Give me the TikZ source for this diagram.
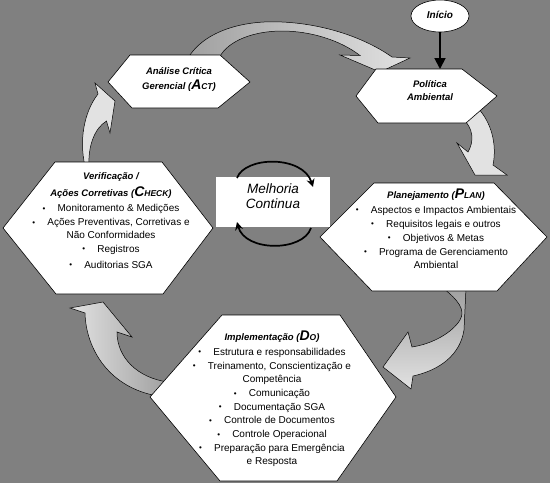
\documentclass[tikz,border=0pt]{standalone}
\usepackage{fontspec}
\setmainfont{Liberation Sans}
\usetikzlibrary{arrows.meta,shapes.geometric}
\definecolor{bg}{RGB}{128,128,128}
\definecolor{arrlight}{RGB}{226,226,226}
\definecolor{arrdark}{RGB}{160,160,160}
\newcommand\bul{\makebox[15pt][l]{\raisebox{0.4pt}{\fontsize{8}{8}\selectfont •}}}
\newcommand\pdcaletter[2]{{\fontsize{14}{14}\selectfont #1}{\fontsize{8.5}{10}\selectfont #2}}
\begin{document}
\begin{tikzpicture}[x=1pt,y=-1pt,
  hexa/.style={draw=black, line width=0.6pt, fill=white},
  blockarrow/.style={draw=black, line width=0.5pt},
  txt/.style={align=center, inner sep=0pt, font=\fontsize{10}{14}\selectfont},
  ttl/.style={align=center, inner sep=0pt, font=\bfseries\itshape\fontsize{9.5}{13}\selectfont},
  cycarrow/.style={line width=1.7pt, -{Stealth[length=8pt,width=8pt]}}]
\fill[bg] (0,0) rectangle (550,483);
\useasboundingbox (0,0) rectangle (550,483);

% ---- curved block arrows (behind the hexagons)
% ACT -> Politica
\path[blockarrow, left color=arrdark, right color=arrlight]
  (188,58) .. controls (205,30) and (245,20) .. (282,22)
  .. controls (325,24) and (365,38) .. (392,57) -- (410,58) -- (380,72) -- (340,55) -- (360,55.5)
  .. controls (340,40) and (310,31) .. (282,31)
  .. controls (255,31) and (228,40) .. (219,58) -- cycle;
% Politica -> Planejamento
\path[blockarrow, fill=arrlight]
  (462,118) .. controls (474,128) and (474,142) .. (468,152) -- (457,143) -- (475,175) -- (507,175) -- (493,165)
  .. controls (497,145) and (492,122) .. (476,106) -- cycle;
% Planejamento -> Implementacao
\path[blockarrow, top color=arrdark, bottom color=arrlight]
  (443,288) .. controls (458,300) and (466,310) .. (460,320)
  .. controls (452,333) and (432,344) .. (412,347) -- (408,332) -- (383,367) -- (411,389) -- (413,376)
  .. controls (440,370) and (460,355) .. (464,330) -- (466,288) -- cycle;
% Implementacao -> Verificacao
\path[blockarrow, left color=arrlight, right color=arrdark]
  (168,382) .. controls (138,378) and (117,358) .. (117,332) -- (132,337) -- (103,302) -- (70,308) -- (85,313)
  .. controls (86,350) and (110,388) .. (158,396) -- cycle;
% Verificacao -> ACT
\path[blockarrow, fill=arrlight]
  (85,166) .. controls (79,140) and (84,112) .. (98,94) -- (95,83) -- (115,101) -- (110,133) -- (106.5,121)
  .. controls (95,128) and (88,145) .. (89,166) -- cycle;

% ---- hexagons
\draw[hexa] (108,82) -- (130,55) -- (220,55) -- (250,82) -- (218,108) -- (132,108) -- cycle;
\draw[hexa] (356,96) -- (376,69) -- (462,69) -- (497,96) -- (466,123) -- (378,123) -- cycle;
\draw[hexa] (3,228) -- (55,162) -- (162,162) -- (213,228) -- (163,294) -- (56,294) -- cycle;
\draw[hexa] (320,237) -- (374,183) -- (494,183) -- (547,237) -- (497,291) -- (372,291) -- cycle;
\draw[hexa] (150,397) -- (222,315) -- (340,315) -- (396,397) -- (337,481) -- (220,481) -- cycle;

% ---- start
\node[ellipse, draw=black, line width=0.6pt, fill=white, minimum width=58pt, minimum height=32pt, inner sep=0pt,
      font=\bfseries\itshape\fontsize{10}{12}\selectfont] (inicio) at (440,16) {\raisebox{2.5pt}{Início}};
\coordinate (poltop) at (440,69);
\draw[line width=1.8pt, -{Triangle[length=11pt,width=11pt]}] (inicio.south) -- (poltop);

% ---- texts
\node[ttl, anchor=north] (act) at (179,67)
  {Análise Crítica\\[2.5pt] Gerencial (\pdcaletter{A}{CT})};
\node[ttl, anchor=north] (politica) at (430,80)
  {Política\\ Ambiental};
\node[txt, anchor=north] (check) at (111,172)
  {{\bfseries\itshape\fontsize{9.5}{12}\selectfont Verificação /}\\[3.5pt]
   {\bfseries\itshape\fontsize{9.5}{12}\selectfont Ações Corretivas (\pdcaletter{C}{HECK})}\\[1pt]
   \bul Monitoramento \& Medições\\
   \bul Ações Preventivas, Corretivas e\\[-1.5pt]
   Não Conformidades\\
   \bul Registros\\[2pt]
   \bul Auditorias SGA};
\node[txt, anchor=north] (plan) at (436,189)
  {{\bfseries\itshape\fontsize{9.5}{12}\selectfont Planejamento (\pdcaletter{P}{LAN})}\\[0.5pt]
   \bul Aspectos e Impactos Ambientais\\
   \bul Requisitos legais e outros\\
   \bul Objetivos \& Metas\\
   \bul Programa de Gerenciamento\\[-0.5pt]
   Ambiental};
\node[txt, anchor=north] (do) at (272,330.5)
  {{\bfseries\itshape\fontsize{9.5}{12}\selectfont Implementação (\pdcaletter{D}{O})}\\[1pt]
   \bul Estrutura e responsabilidades\\[-0.3pt]
   \bul Treinamento, Conscientização e\\[-0.3pt]
   Competência\\[-0.3pt]
   \bul Comunicação\\[-0.3pt]
   \bul Documentação SGA\\[-0.3pt]
   \bul Controle de Documentos\\[-0.3pt]
   \bul Controle Operacional\\[-0.3pt]
   \bul Preparação para Emergência\\[-0.3pt]
   e Resposta};

% ---- centre
\node[fill=white, minimum width=114pt, minimum height=50pt, inner sep=0pt] (melhoria) at (273,202) {};
\node[align=center, inner sep=0pt, font=\itshape\fontsize{13.5}{15.5}\selectfont] (melhoriatxt) at (273,196)
  {Melhoria\\ Continua};
\coordinate (c1) at (237,178);
\coordinate (c2) at (313,187);
\coordinate (c3) at (311,228);
\coordinate (c4) at (237,222);
\draw[cycarrow] (c1) .. controls (245,156) and (303,155) .. (c2);
\draw[cycarrow] (c3) .. controls (303,252) and (245,252) .. (c4);
\end{tikzpicture}
\end{document}
